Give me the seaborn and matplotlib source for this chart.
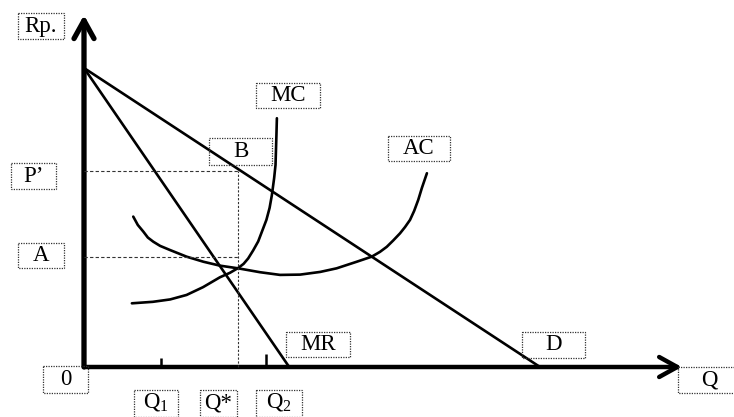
import numpy as np
import pandas as pd
import seaborn as sns
import matplotlib.pyplot as plt
from matplotlib.patches import Rectangle, FancyArrowPatch

# demand and marginal revenue (straight lines)
d_q = [0, 100]
d_p = [100, 0]
mr_q = [0, 45]
mr_p = [100, 0]

# marginal cost curve
mc_q = [10.5, 15.1, 18.9, 22.5, 26.1, 29.8, 32.0, 33.8, 35.0, 36.0, 37.1, 38.2, 39.0,
        40.0, 40.7, 41.2, 41.7, 42.0, 42.1, 42.2, 42.3]
mc_p = [21.3, 21.8, 22.6, 24.1, 26.7, 30.0, 31.5, 33.1, 34.5, 36.3, 39.0, 42.0, 45.2,
        49.2, 53.2, 57.5, 63.2, 67.6, 72.6, 77.6, 83.2]

# average cost curve
ac_q = [10.8, 11.8, 13.0, 14.0, 15.2, 16.7, 18.9, 22.5, 26.2, 29.8, 33.8, 38.6, 43.0,
        47.4, 51.8, 55.4, 59.8, 63.1, 64.9, 66.4, 67.8, 69.3, 70.4, 71.5, 72.4, 73.3,
        74.1, 75.2]
ac_p = [50.3, 47.5, 45.3, 43.3, 41.9, 40.5, 39.1, 36.9, 35.2, 33.9, 33.0, 31.7, 30.8,
        30.9, 31.8, 33.0, 35.2, 36.9, 38.5, 40.2, 42.3, 44.7, 46.8, 49.2, 52.2, 55.9,
        59.9, 64.8]

# reference levels
q1 = 16.9
q_star = 33.8
q2 = 39.9
p_prime = 65.6
a_level = 36.7
p_top = 117.7
q_right = 131.1

# labels: text, centre x, centre y, box w, box h (pixels)
labels = [
    ("Rp.", 41, 26, 46, 26),
    ("P\u2019", 33.5, 176, 45, 26),
    ("A", 41, 255.5, 46, 25),
    ("B", 240.5, 151.5, 63, 27),
    ("MC", 288, 95.5, 64, 25),
    ("AC", 419, 148.5, 62, 25),
    ("MR", 318, 344.5, 64, 25),
    ("D", 553.5, 345, 63, 26),
    ("Q", 709, 380, 62, 26),
    ("0", 65.5, 379.5, 45, 27),
    ("Q$_{\\mathrm{1}}$", 156, 403, 44, 27),
    ("Q*", 218.5, 403, 37, 27),
    ("Q$_{\\mathrm{2}}$", 279, 403, 46, 27),
]

sns.set_theme(style="white")
plt.rcParams["font.family"] = ["Liberation Serif", "DejaVu Serif"]
plt.rcParams["mathtext.fontset"] = "custom"
plt.rcParams["mathtext.rm"] = "Liberation Serif"

fig = plt.figure(figsize=(7.34, 4.17), dpi=100)
ax = fig.add_axes([0, 0, 1, 1])
ax.set_xlim(-84 / 4.56, 650 / 4.56)
ax.set_ylim(-50 / 2.99, 367 / 2.99)
ax.axis("off")

lw = 1.9
for qs, ps in [(d_q, d_p), (mr_q, mr_p), (mc_q, mc_p), (ac_q, ac_p)]:
    sns.lineplot(x=qs, y=ps, ax=ax, color="black", lw=lw, sort=False, estimator=None,
                 solid_joinstyle="round")

# guide lines
ax.plot([0, q_star], [p_prime, p_prime], color="#333333", lw=0.8, ls=(0, (3, 2)))
ax.plot([0, q_star], [a_level, a_level], color="#333333", lw=0.8, ls=(0, (3, 2)))
ax.plot([q_star, q_star], [0, p_prime], color="#333333", lw=0.8, ls=(0, (2, 1.5)))

# small ticks for Q1 and Q2
ax.vlines([q1], 0, 3.0, color="black", lw=1.8)
ax.vlines([q2], 0, 4.3, color="black", lw=1.8)

# axes with open arrow heads
for tip, w in [((0, p_top), 3.8), ((q_right, 0), 3.2)]:
    arr = FancyArrowPatch((0, 0), tip, arrowstyle="->,head_length=1.3,head_width=0.72",
                          mutation_scale=10, lw=w, color="black", shrinkA=0, shrinkB=0)
    ax.add_patch(arr)

# text boxes in pixel space
ax2 = fig.add_axes([0, 0, 1, 1])
ax2.set_xlim(0, 734)
ax2.set_ylim(417, 0)
ax2.axis("off")
ax2.patch.set_alpha(0)
for txt, cx, cy, bw, bh in labels:
    ax2.add_patch(Rectangle((cx - bw / 2, cy - bh / 2), bw, bh, fill=False,
                            ls=(0, (1, 1)), lw=0.9, edgecolor="#333333"))
    ax2.text(cx, cy, txt, ha="center", va="center", fontsize=16.5, color="black")

fig.savefig("out.png", dpi=100)
